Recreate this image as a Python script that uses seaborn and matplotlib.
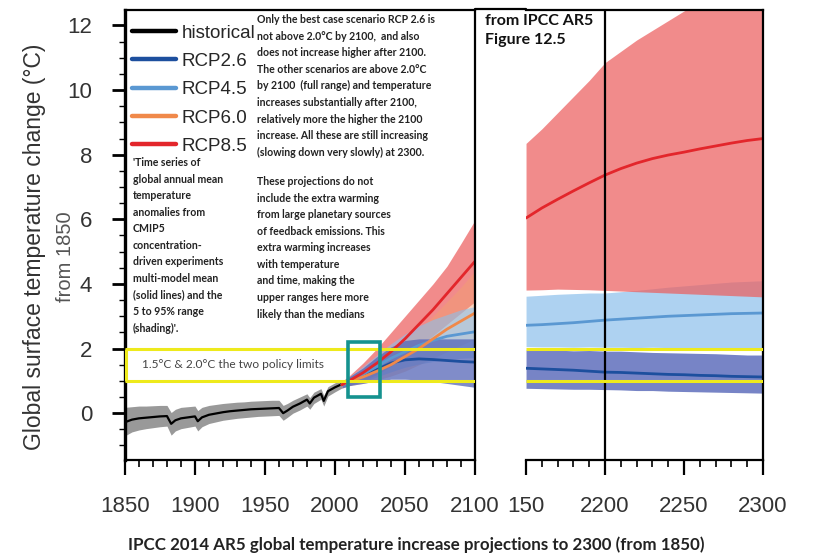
import matplotlib
matplotlib.use('Agg')
import matplotlib.pyplot as plt
import seaborn as sns
from matplotlib.lines import Line2D
from matplotlib.patches import Rectangle
from matplotlib.ticker import MultipleLocator

# historical run (mean and 5-95% range)
hist_years = [1850, 1855, 1860, 1865, 1870, 1875, 1880, 1883, 1886, 1890, 1895, 1900, 1902, 1905,
              1910, 1915, 1920, 1925, 1930, 1935, 1940, 1945, 1950, 1955, 1960, 1963, 1966, 1970,
              1975, 1980, 1982, 1985, 1990, 1992, 1995, 2000, 2005]
hist_mean = [-0.28, -0.20, -0.16, -0.14, -0.12, -0.10, -0.09, -0.33, -0.22, -0.16, -0.13, -0.10, -0.25, -0.13,
             -0.05, -0.01, 0.03, 0.06, 0.08, 0.10, 0.12, 0.13, 0.14, 0.15, 0.16, 0.00, 0.08, 0.20,
             0.30, 0.42, 0.30, 0.48, 0.60, 0.38, 0.68, 0.80, 0.90]
hist_low = [-0.70, -0.58, -0.52, -0.48, -0.45, -0.42, -0.40, -0.68, -0.55, -0.48, -0.44, -0.40, -0.55, -0.42,
            -0.32, -0.27, -0.22, -0.19, -0.16, -0.14, -0.12, -0.10, -0.09, -0.08, -0.07, -0.22, -0.13, 0.00,
            0.10, 0.22, 0.12, 0.30, 0.43, 0.22, 0.53, 0.66, 0.78]
hist_high = [0.18, 0.20, 0.22, 0.22, 0.23, 0.24, 0.24, 0.02, 0.12, 0.18, 0.20, 0.22, 0.08, 0.18,
             0.24, 0.27, 0.30, 0.32, 0.34, 0.35, 0.37, 0.38, 0.39, 0.40, 0.40, 0.24, 0.30, 0.40,
             0.50, 0.60, 0.48, 0.65, 0.76, 0.55, 0.82, 0.94, 1.02]

# projections 2005-2100
proj_years = [2005, 2010, 2020, 2030, 2040, 2050, 2060, 2070, 2080, 2090, 2100]
rcp85_mean = [0.88, 1.00, 1.25, 1.55, 1.90, 2.30, 2.75, 3.20, 3.70, 4.20, 4.70]
rcp85_high = [0.98, 1.15, 1.55, 2.00, 2.50, 3.00, 3.50, 4.00, 4.55, 5.25, 5.97]
rcp85_low = [0.78, 0.85, 1.00, 1.20, 1.45, 1.75, 2.05, 2.40, 2.75, 3.10, 3.45]
rcp60_mean = [0.88, 0.98, 1.12, 1.30, 1.50, 1.75, 2.00, 2.30, 2.60, 2.85, 3.10]
rcp60_high = [0.98, 1.10, 1.35, 1.60, 1.90, 2.25, 2.60, 3.00, 3.45, 3.90, 4.40]
rcp60_low = [0.78, 0.85, 0.92, 1.02, 1.15, 1.30, 1.50, 1.70, 1.90, 2.10, 2.30]
rcp45_mean = [0.88, 1.00, 1.20, 1.45, 1.70, 1.90, 2.10, 2.25, 2.38, 2.45, 2.52]
rcp45_high = [0.98, 1.12, 1.45, 1.80, 2.15, 2.45, 2.70, 2.90, 3.05, 3.20, 3.30]
rcp45_low = [0.78, 0.86, 0.98, 1.12, 1.28, 1.42, 1.52, 1.60, 1.66, 1.70, 1.72]
rcp26_mean = [0.88, 1.00, 1.15, 1.35, 1.55, 1.65, 1.68, 1.66, 1.63, 1.60, 1.58]
rcp26_high = [0.98, 1.12, 1.40, 1.75, 2.05, 2.25, 2.30, 2.30, 2.30, 2.30, 2.30]
rcp26_low = [0.78, 0.85, 0.92, 1.00, 1.05, 1.05, 1.03, 0.98, 0.92, 0.86, 0.80]

# extensions 2150-2300
ext_years = [2150, 2160, 2170, 2180, 2190, 2200, 2210, 2220, 2230, 2240, 2250, 2260, 2270, 2280, 2290, 2300]
ext85_mean = [6.04, 6.35, 6.62, 6.88, 7.13, 7.37, 7.57, 7.74, 7.88, 7.99, 8.08, 8.18, 8.27, 8.36, 8.44, 8.50]
ext85_high = [8.35, 8.80, 9.30, 9.80, 10.30, 10.85, 11.20, 11.55, 11.85, 12.15, 12.45, 12.70, 12.90, 13.10, 13.30, 13.45]
ext85_low = [3.81, 3.82, 3.84, 3.83, 3.82, 3.80, 3.78, 3.76, 3.74, 3.72, 3.70, 3.68, 3.66, 3.64, 3.62, 3.60]
ext45_mean = [2.72, 2.74, 2.77, 2.80, 2.84, 2.88, 2.91, 2.94, 2.97, 3.00, 3.02, 3.04, 3.06, 3.08, 3.09, 3.10]
ext45_high = [3.62, 3.65, 3.68, 3.70, 3.72, 3.72, 3.76, 3.80, 3.85, 3.90, 3.94, 3.98, 4.02, 4.06, 4.08, 4.10]
ext45_low = [2.06, 2.05, 2.05, 2.04, 2.05, 2.04, 2.04, 2.03, 2.04, 2.03, 2.02, 2.03, 2.02, 2.02, 2.01, 2.02]
ext26_mean = [1.39, 1.37, 1.35, 1.33, 1.30, 1.27, 1.26, 1.24, 1.22, 1.20, 1.19, 1.17, 1.16, 1.14, 1.13, 1.12]
ext26_high = [1.95, 1.94, 1.95, 1.93, 1.94, 1.92, 1.92, 1.90, 1.88, 1.87, 1.86, 1.85, 1.84, 1.82, 1.80, 1.80]
ext26_low = [0.77, 0.76, 0.75, 0.74, 0.74, 0.73, 0.72, 0.70, 0.70, 0.68, 0.67, 0.66, 0.65, 0.64, 0.63, 0.62]

policy_limits = [1.0, 2.0]
left_ticks = [1850, 1900, 1950, 2000, 2050, 2100]
right_ticks = [2150, 2200, 2250, 2300]
right_labels = ['150', '2200', '2250', '2300']

c_hist = 'black'
c26, c45, c60, c85 = '#1d4f9e', '#5a98d2', '#f0894a', '#e3262b'
f26, f45, f60, f85 = '#5566b8', '#8cc0ec', '#f3a070', '#ec5f5f'

sns.set_theme(style='ticks')
plt.rcParams['font.family'] = ['Liberation Sans', 'DejaVu Sans']

fig = plt.figure(figsize=(8.2, 5.58), dpi=100)
ax1 = fig.add_axes([0.1524, 0.1756, 0.4268, 0.8065])
ax2 = fig.add_axes([0.6415, 0.1756, 0.2890, 0.8065])

# left panel
ax1.fill_between(hist_years, hist_low, hist_high, color='#808080', alpha=0.8, lw=0)
ax1.fill_between(proj_years, rcp85_low, rcp85_high, color=f85, alpha=0.72, lw=0)
ax1.fill_between(proj_years, rcp60_low, rcp60_high, color=f60, alpha=0.45, lw=0)
ax1.fill_between(proj_years, rcp45_low, rcp45_high, color=f45, alpha=0.6, lw=0)
ax1.fill_between(proj_years, rcp26_low, rcp26_high, color=f26, alpha=0.75, lw=0)
sns.lineplot(x=hist_years, y=hist_mean, color=c_hist, lw=1.6, ax=ax1)
sns.lineplot(x=proj_years, y=rcp26_mean, color=c26, lw=2, ax=ax1)
sns.lineplot(x=proj_years, y=rcp45_mean, color=c45, lw=2, ax=ax1)
sns.lineplot(x=proj_years, y=rcp60_mean, color=c60, lw=2, ax=ax1)
sns.lineplot(x=proj_years, y=rcp85_mean, color=c85, lw=2, ax=ax1)

# right panel
ax2.fill_between(ext_years, ext45_low, ext45_high, color=f45, alpha=0.7, lw=0)
ax2.fill_between(ext_years, ext85_low, ext85_high, color=f85, alpha=0.72, lw=0)
ax2.fill_between(ext_years, ext26_low, ext26_high, color=f26, alpha=0.8, lw=0)
sns.lineplot(x=ext_years, y=ext45_mean, color=c45, lw=2, ax=ax2)
sns.lineplot(x=ext_years, y=ext26_mean, color=c26, lw=2, ax=ax2)
sns.lineplot(x=ext_years, y=ext85_mean, color=c85, lw=2, ax=ax2)
ax2.axvline(2200, color='black', lw=1.6, zorder=5)

for ax, x0, x1 in [(ax1, 1850, 2100), (ax2, 2150, 2300)]:
    ax.set_xlim(x0, x1)
    ax.set_ylim(-1.45, 12.48)
    ax.hlines(policy_limits, x0, x1, color='#eeea1c', lw=2.2, zorder=6)
    ax.set_xlabel('')
    ax.set_ylabel('')
    ax.xaxis.set_minor_locator(MultipleLocator(10))
    ax.tick_params(axis='x', which='major', length=11, width=1.6, direction='out',
                   pad=15, labelsize=16, colors='black', labelcolor='#333333')
    ax.tick_params(axis='x', which='minor', length=5, width=1.2, direction='out', colors='black')
    for s in ax.spines.values():
        s.set_color('black')
        s.set_linewidth(1.6)

ax1.vlines(1850.6, 1, 2, color='#eeea1c', lw=2.2, zorder=6)
ax1.set_xticks(left_ticks)
ax1.set_yticks([0, 2, 4, 6, 8, 10, 12])
ax1.yaxis.set_minor_locator(MultipleLocator(0.5))
ax1.tick_params(axis='y', which='major', length=9.5, width=2, pad=14, labelsize=16,
                colors='black', labelcolor='#333333')
ax1.tick_params(axis='y', which='minor', length=4, width=1, colors='black')
ax1.spines['left'].set_linewidth(2.4)

ax2.set_xticks(right_ticks, right_labels)
ax2.set_yticks([])
ax2.spines['left'].set_visible(False)

ax1.add_patch(Rectangle((2009.5, 0.5), 22.5, 1.7, fill=False, ec='#15928f', lw=2.6, zorder=10))

# legend
handles = [Line2D([], [], color=c, lw=3.2) for c in [c_hist, c26, c45, c60, c85]]
ax1.legend(handles, ['historical', 'RCP2.6', 'RCP4.5', 'RCP6.0', 'RCP8.5'], loc='upper left',
           bbox_to_anchor=(0.02, 0.968), frameon=False, fontsize=13.5, handlelength=2.35,
           handletextpad=0.3, labelspacing=0.6, borderaxespad=0, borderpad=0)

# y label
fig.text(35 / 820, 1 - 247 / 558, 'Global surface temperature change (°C)', rotation=90,
         ha='center', va='center', fontsize=16.5, color='#333333')
fig.text(66 / 820, 1 - 257 / 558, 'from 1850', rotation=90, ha='center', va='center',
         fontsize=14.5, color='#555555')

note = dict(family=['Lato', 'DejaVu Sans'], fontweight='bold', fontsize=7.6, color='#222222',
            ha='left', va='top', linespacing=1.62)
fig.text(257 / 820, 1 - 14 / 558,
         'Only the best case scenario RCP 2.6 is\n'
         'not above 2.0°C by 2100,  and also\n'
         'does not increase higher after 2100.\n'
         'The other scenarios are above 2.0°C\n'
         'by 2100  (full range) and temperature\n'
         'increases substantially after 2100,\n'
         'relatively more the higher the 2100\n'
         'increase. All these are still increasing\n'
         '(slowing down very slowly) at 2300.', **note)
fig.text(133 / 820, 1 - 157 / 558,
         "'Time series of\n"
         'global annual mean\n'
         'temperature\n'
         'anomalies from\n'
         'CMIP5\n'
         'concentration-\n'
         'driven experiments\n'
         'multi-model mean\n'
         '(solid lines) and the\n'
         '5 to 95% range\n'
         "(shading)'.", **note)
fig.text(257 / 820, 1 - 176 / 558,
         'These projections do not\n'
         'include the extra warming\n'
         'from large planetary sources\n'
         'of feedback emissions. This\n'
         'extra warming increases\n'
         'with temperature\n'
         'and time, making the\n'
         'upper ranges here more\n'
         'likely than the medians', **note)
fig.text(485 / 820, 1 - 14 / 558, 'from IPCC AR5\nFigure 12.5', family=['Lato', 'DejaVu Sans'],
         fontweight='bold', fontsize=11.5, ha='left', va='top', linespacing=1.45, color='#111111')
fig.text(142 / 820, 1 - 365 / 558, '1.5°C & 2.0°C the two policy limits', family=['Lato', 'DejaVu Sans'],
         fontsize=8.6, ha='left', va='center', color='#444444')
fig.text(416 / 820, 1 - 545 / 558,
         'IPCC 2014 AR5 global temperature increase projections to 2300 (from 1850)',
         family=['Lato', 'DejaVu Sans'], fontweight='bold', fontsize=12.2, ha='center', va='center',
         color='#222222')

# frame line across the gap at the top
fig.add_artist(Line2D([475 / 820, 526 / 820], [1 - 9 / 558, 1 - 9 / 558], color='black', lw=1.6))

fig.savefig('out.png', dpi=100)
